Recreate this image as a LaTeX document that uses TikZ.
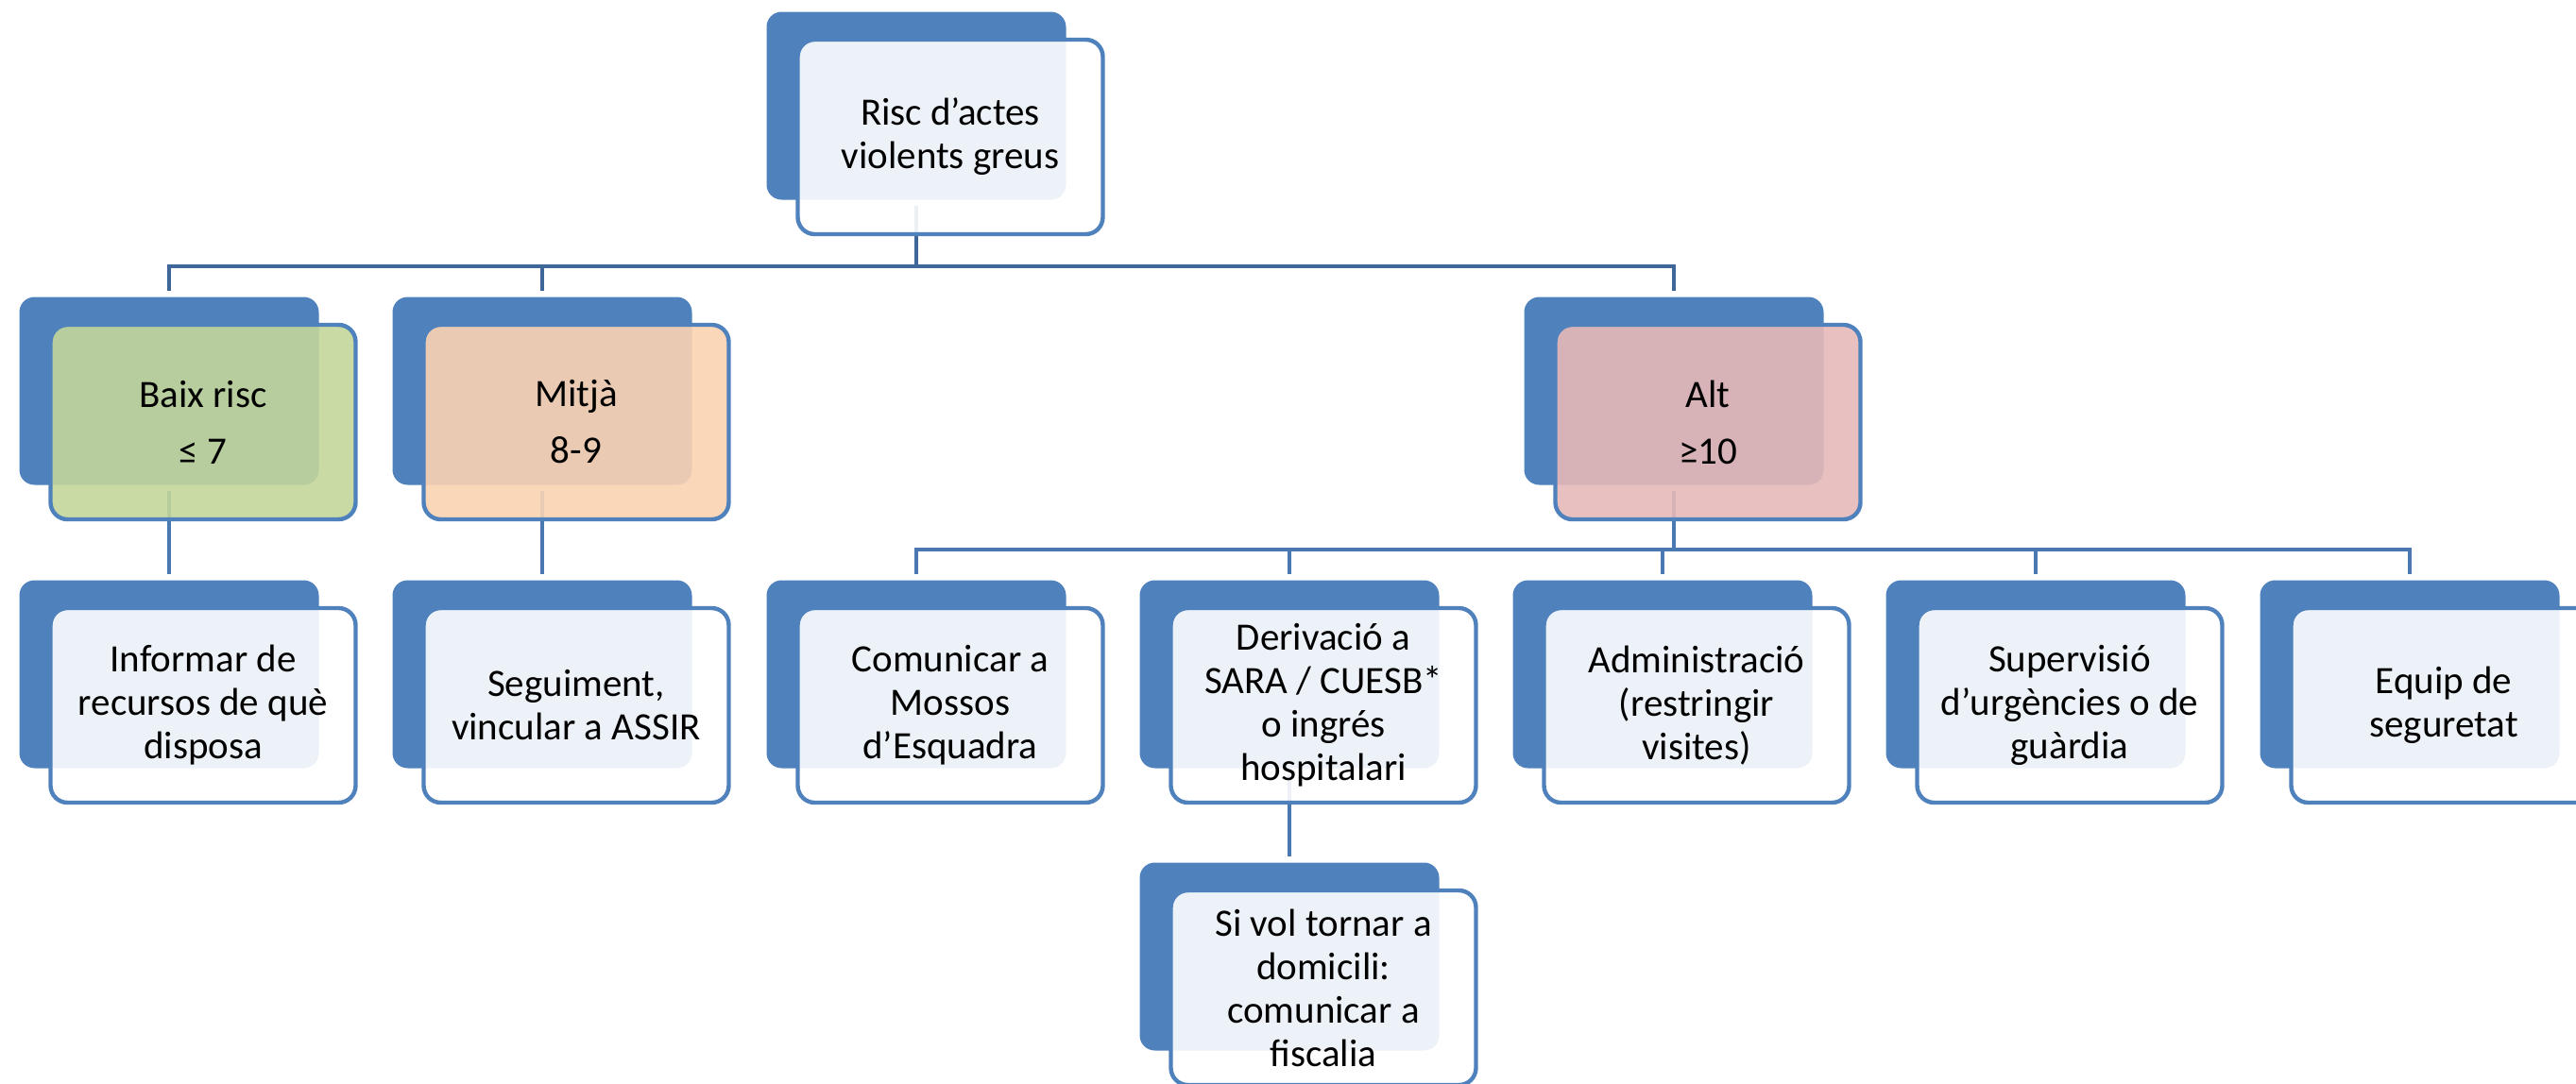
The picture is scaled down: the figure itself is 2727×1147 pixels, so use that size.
\documentclass[tikz,border=0pt]{standalone}
\usepackage{fontspec}
\setmainfont{Carlito}
\usetikzlibrary{positioning, calc}
\definecolor{blau}{HTML}{4F81BD}
\definecolor{linia}{HTML}{3F6698}
\definecolor{liniaclara}{HTML}{4A78B0}
\definecolor{verd}{HTML}{C3D69B}
\definecolor{taronja}{HTML}{FBD3B3}
\definecolor{vermell}{HTML}{E6B9B8}
\tikzset{
  fons/.style={fill=blau, draw=none, rounded corners=8pt, minimum width=158.5pt, minimum height=99.5pt},
  caixa/.style={draw=blau, line width=2.2pt, fill=white, fill opacity=0.9, text opacity=1, rounded corners=9pt,
    minimum width=161.5pt, minimum height=103pt, align=center, font=\fontsize{20.5}{23}\selectfont},
  enllac/.style={draw=liniaclara, line width=2pt, shorten <=3pt, shorten >=3pt},
}

\begin{document}
\begin{tikzpicture}[x=0.5pt, y=-0.5pt]
        \useasboundingbox (0,0) rectangle (2727,1147);
        \clip (0,0) rectangle (2727,1147);
        %caixes de fons
        \node[fons] (risc-f) at (970,112) {};
        \node[fons] (baix-f) at (179,414) {};
        \node[fons] (mitja-f) at (574,414) {};
        \node[fons] (alt-f) at (1772,414) {};
        \node[fons] (info-f) at (179,714) {};
        \node[fons] (segui-f) at (574,714) {};
        \node[fons] (mossos-f) at (970,714) {};
        \node[fons] (deriv-f) at (1365,714) {};
        \node[fons] (admin-f) at (1760,714) {};
        \node[fons] (superv-f) at (2155,714) {};
        \node[fons] (equip-f) at (2551,714) {};
        \node[fons] (fisc-f) at (1365,1013) {};
        %connectors nivell de risc
        \coordinate (bus1) at (970,282);
        \draw[enllac, draw=linia] (risc-f.south) -- (bus1) -| (baix-f.north);
        \draw[enllac, draw=linia, shorten <=0pt] (bus1) -| (mitja-f.north);
        \draw[enllac, draw=linia, shorten <=0pt] (bus1) -| (alt-f.north);
        %connectors risc baix i mitja
        \draw[enllac] (baix-f.south) -- (info-f.north);
        \draw[enllac] (mitja-f.south) -- (segui-f.north);
        %connectors risc alt
        \coordinate (bus2) at (1772,582);
        \draw[enllac] (alt-f.south) -- (bus2) -| (mossos-f.north);
        \draw[enllac, shorten <=0pt] (bus2) -| (deriv-f.north);
        \draw[enllac, shorten <=0pt] (bus2) -| (admin-f.north);
        \draw[enllac, shorten <=0pt] (bus2) -| (superv-f.north);
        \draw[enllac, shorten <=0pt] (bus2) -| (equip-f.north);
        \draw[enllac] (deriv-f.south) -- (fisc-f.north);
        %caixes amb text
        \node[caixa] (risc) at (1006,145) {Risc d’actes\\violents greus};
        \node[caixa, fill=verd] (baix) at (215,447) {Baix risc\\[7pt]≤ 7};
        \node[caixa, fill=taronja] (mitja) at (610,447) {Mitjà\\[7pt]8-9};
        \node[caixa, fill=vermell] (alt) at (1808,447) {Alt\\[7pt]≥10};
        \node[caixa] (info) at (215,747) {Informar de\\recursos de què\\disposa};
        \node[caixa] (segui) at (610,747) {Seguiment,\\vincular a ASSIR};
        \node[caixa] (mossos) at (1006,747) {Comunicar a\\Mossos\\d’Esquadra};
        \node[caixa] (deriv) at (1401,747) {Derivació a\\SARA / CUESB*\\o ingrés\\hospitalari};
        \node[caixa] (admin) at (1796,747) {Administració\\(restringir\\visites)};
        \node[caixa] (superv) at (2191,747) {Supervisió\\d’urgències o de\\guàrdia};
        \node[caixa] (equip) at (2587,747) {Equip de\\seguretat};
        \node[caixa] (fisc) at (1401,1046) {Si vol tornar a\\domicili:\\comunicar a\\fiscalia};
    \end{tikzpicture}
\end{document}
